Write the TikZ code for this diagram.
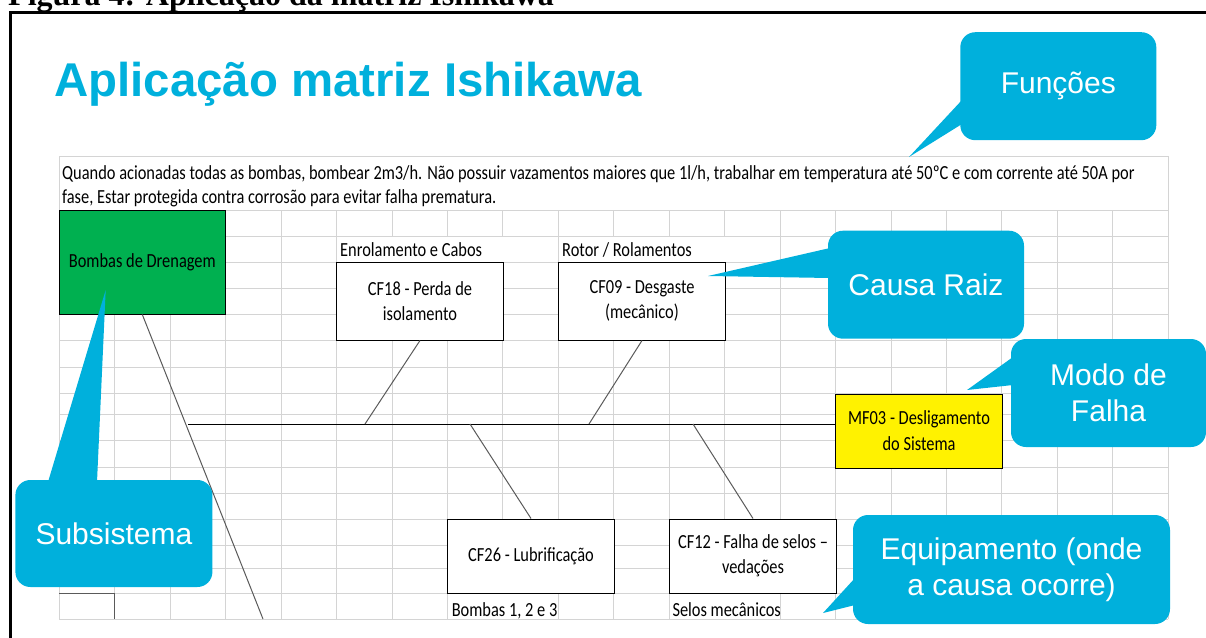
\documentclass[tikz,border=0pt]{standalone}
\usepackage{fontspec}
\setmainfont{Liberation Serif}
\newfontfamily\cellfont[FakeStretch=0.82]{Carlito}
\newfontfamily\arialfont{Liberation Sans}

\definecolor{calloutblue}{RGB}{0,176,220}
\definecolor{gridgray}{RGB}{212,212,212}
\definecolor{bonegray}{RGB}{90,90,90}
\definecolor{excelgreen}{RGB}{0,176,80}

\tikzset{
  gridline/.style={gridgray, line width=1pt},
  cellbox/.style={draw=black, line width=1pt, fill=white, inner sep=0pt, align=center,
    minimum width=166.5pt, font={\cellfont\fontsize{20}{25}\selectfont}},
  celltext/.style={inner sep=0pt, anchor=base west, font={\cellfont\fontsize{20}{24}\selectfont}},
  callout/.style={fill=calloutblue, rounded corners=15pt, inner sep=0pt, align=center, text=white,
    minimum width=196pt, minimum height=108pt, font={\arialfont\fontsize{30}{36.3}\selectfont}},
  bone/.style={bonegray, line width=1pt},
}

\begin{document}
\begin{tikzpicture}[x=1pt, y=-1pt]
  \useasboundingbox (0,0) rectangle (1206,637);

  % caption and frame
  \node[anchor=base west, inner sep=0pt, font={\bfseries\fontsize{32}{38}\selectfont}] (caption) at (8,5.5) {Figura 4: Aplicação da matriz Ishikawa};
  \draw[line width=2.5pt] (10.5,645) -- (10.5,12.7) -- (1215,12.7);

  % title
  \node[anchor=base west, inner sep=0pt, text=calloutblue, font={\arialfont\bfseries\fontsize{47.4}{50}\selectfont}] (title) at (54,96.7) {Aplicação matriz Ishikawa};

  % spreadsheet grid
  \draw[gridline] (59.3,156.7) rectangle (1168.3,210);
  \foreach \i in {0,...,20}
    \draw[gridline] (59.3+55.45*\i,210) -- (59.3+55.45*\i,619);
  \foreach \y in {210,236,262,288,314,340,367,393,414,440,467,493,519,545,568,593,619}
    \draw[gridline] (59.3,\y) -- (1168.3,\y);

  % cells where the text runs over
  \fill[white] (337.3,236.5) rectangle (502.8,261.5);
  \fill[white] (559.3,236.5) rectangle (724.8,261.5);
  \fill[white] (448.3,593.5) rectangle (558.3,618.5);
  \fill[white] (670.3,593.5) rectangle (780.3,618.5);

  % functions (base is the last line)
  \node[celltext, align=left] (funcs) at (62,203) {Quando acionadas todas as bombas, bombear 2m3/h. Não possuir vazamentos maiores que 1l/h, trabalhar em temperatura até 50ºC e com corrente até 50A por\\fase, Estar protegida contra corrosão para evitar falha prematura.};

  % equipment labels
  \node[celltext] (enrol) at (340,256.7) {Enrolamento e Cabos};
  \node[celltext] (rotor) at (562,256.7) {Rotor / Rolamentos};
  \node[celltext] (bombas) at (451.6,616) {Bombas 1, 2 e 3};
  \node[celltext] (selos) at (672.3,616) {Selos mecânicos};

  % boxes
  \node[cellbox, fill=excelgreen, minimum height=104pt] (bdr) at (142.3,262) {Bombas de Drenagem};
  \node[cellbox, minimum height=78pt] (cf18) at (420,301) {CF18 - Perda de\\isolamento};
  \node[cellbox, minimum height=78pt] (cf09) at (642,301) {CF09 - Desgaste\\(mecânico)};
  \node[cellbox, fill=yellow, minimum height=74pt, font={\cellfont\fontsize{20}{26}\selectfont}] (mf03) at (919,431) {MF03 - Desligamento\\do Sistema};
  \node[cellbox, minimum height=74pt] (cf26) at (531,556) {CF26 - Lubrificação};
  \node[cellbox, minimum height=74pt] (cf12) at (753,556) {CF12 - Falha de selos –\\vedações};

  % fishbone
  \coordinate (spL) at (188,424);
  \coordinate (j18) at (365,424);
  \coordinate (j09) at (589,424);
  \coordinate (j26) at (470,424);
  \coordinate (j12) at (693,424);
  \coordinate (bdrEnd) at (263,619);
  \draw[line width=1pt] (spL) -- (spL -| mf03.west);
  \draw[bone] (cf18.south) -- (j18);
  \draw[bone] (cf09.south) -- (j09);
  \draw[bone] (j26) -- (cf26.north);
  \draw[bone] (j12) -- (cf12.north);
  \draw[bone] (bdr.south) -- (bdrEnd);
  \draw[bonegray, line width=1pt] (59.3,593) -- (114.8,593) -- (114.8,619);

  % callouts
  \node[callout] (funcoes) at (1058.3,86.2) {Funções};
  \coordinate (funcoesTip) at (909,157);
  \fill[calloutblue] (962,100) -- (funcoesTip) -- (962,124) -- cycle;

  \node[callout] (causa) at (926,284.7) {Causa Raiz};
  \coordinate (causaTip) at (708,276);
  \fill[calloutblue] (830,248) -- (causaTip) -- (830,278) -- cycle;

  \node[callout, minimum width=195pt] (modo) at (1108.5,393) {Modo de\\Falha};
  \coordinate (modoTip) at (967,390);
  \fill[calloutblue] (1013,357) -- (modoTip) -- (1013,385) -- cycle;

  \node[callout, minimum width=197pt, minimum height=107pt] (subsis) at (113.9,533.5) {Subsistema};
  \coordinate (subsisTip) at (105.7,290);
  \fill[calloutblue] (48,482) -- (subsisTip) -- (97,482) -- cycle;

  \node[callout, minimum width=317pt, minimum height=109pt] (equip) at (1011.5,569.5) {Equipamento (onde\\a causa ocorre)};
  \coordinate (equipTip) at (823,613);
  \fill[calloutblue] (855,578) -- (equipTip) -- (855,605) -- cycle;
\end{tikzpicture}
\end{document}
